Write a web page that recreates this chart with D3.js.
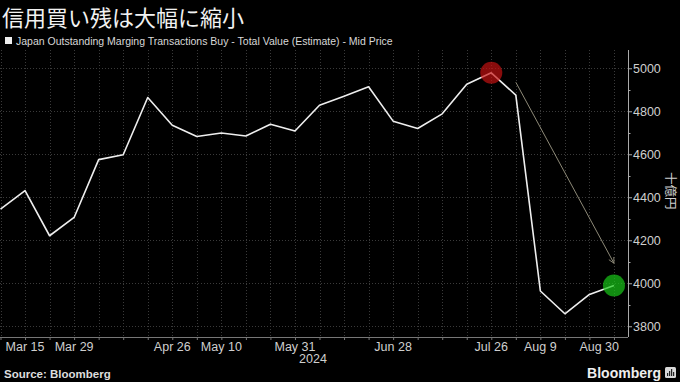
<!DOCTYPE html>
<html>
<head>
<meta charset="utf-8">
<script src="https://cdn.jsdelivr.net/npm/d3@7/dist/d3.min.js"></script>
<style>
html,body{margin:0;padding:0;background:#000;}
svg{display:block;}
</style>
</head>
<body>
<svg id="chart" width="680" height="382"></svg>
<script>
// ---- data ----
const dates = ["2024-03-08","2024-03-15","2024-03-22","2024-03-29","2024-04-05","2024-04-12","2024-04-19","2024-04-26","2024-05-03","2024-05-10","2024-05-17","2024-05-24","2024-05-31","2024-06-07","2024-06-14","2024-06-21","2024-06-28","2024-07-05","2024-07-12","2024-07-19","2024-07-26","2024-08-02","2024-08-09","2024-08-16","2024-08-23","2024-08-30"];
const values = [4345,4431,4221,4306,4575,4598,4864,4735,4683,4699,4685,4740,4708,4828,4870,4914,4754,4720,4788,4926,4979,4875,3964,3858,3948,3990];
const xTickLabels = ["2024-03-15","2024-03-29","2024-04-26","2024-05-10","2024-05-31","2024-06-28","2024-07-26","2024-08-09","2024-08-30"];
const yTicks = [3800,4000,4200,4400,4600,4800,5000];
const highlightDates = ["2024-07-26","2024-08-30"];
const highlightColors = ["rgba(200,18,18,0.68)","rgba(24,200,24,0.70)"];
const arrowFrom = {date:"2024-08-02", value:4935};
const arrowTo = {date:"2024-08-30", value:4093};
const title = "信用買い残は大幅に縮小";
const legendLabel = "Japan Outstanding Marging Transactions Buy - Total Value (Estimate) - Mid Price";
const unitLabel = "十億円";
const yearLabel = "2024";
const sourceLabel = "Source: Bloomberg";

// ---- setup ----
const parse = d3.utcParse("%Y-%m-%d");
const data = dates.map((d,i)=>({date:parse(d), value:values[i]}));
const svg = d3.select("#chart");
const W = 680, H = 382;
const plot = {left:0, right:628, top:50, bottom:337};

svg.append("rect").attr("width",W).attr("height",H).attr("fill","#000");

const x = d3.scaleUtc()
  .domain([parse("2024-03-08"), parse("2024-09-03")])
  .range([0.5, plot.right]);
const y = d3.scaleLinear()
  .domain([3750, 5085])
  .range([plot.bottom, plot.top]);

const font = "'Liberation Sans', Arial, sans-serif";
const cjk = "'Noto Sans CJK JP', 'Noto Sans CJK SC', sans-serif";

// grid
const grid = svg.append("g");
grid.selectAll("line.v").data(data).join("line")
  .attr("x1",d=>Math.round(x(d.date))+0.5).attr("x2",d=>Math.round(x(d.date))+0.5)
  .attr("y1",plot.top).attr("y2",plot.bottom)
  .attr("stroke","#3a3a3a").attr("stroke-width",1).attr("stroke-dasharray","1,2");
grid.selectAll("line.h").data(yTicks).join("line")
  .attr("x1",plot.left).attr("x2",plot.right)
  .attr("y1",d=>Math.round(y(d))+0.5).attr("y2",d=>Math.round(y(d))+0.5)
  .attr("stroke","#3a3a3a").attr("stroke-width",1).attr("stroke-dasharray","1,2");

// x axis
const xAxisG = svg.append("g").attr("transform",`translate(0,${plot.bottom})`);
xAxisG.call(d3.axisBottom(x).tickValues(data.map(d=>d.date)).tickSize(3).tickFormat(""));
xAxisG.select(".domain").attr("stroke","#777").attr("d",`M${plot.left},0.5H${plot.right}`);
xAxisG.selectAll(".tick line").attr("stroke","#777");

const fmt = d3.utcFormat("%b %-d");
const labelsG = svg.append("g");
labelsG.selectAll("text").data(xTickLabels.map(parse)).join("text")
  .attr("x",d=>x(d)).attr("y",351)
  .attr("text-anchor","middle")
  .attr("fill","#cfcfcf").attr("font-family",font).attr("font-size",12.5)
  .text(d=>fmt(d))
  .each(function(){
    const b = this.getBBox();
    if (b.x + b.width > plot.right - 9) {
      d3.select(this).attr("text-anchor","end").attr("x", plot.right - 9);
    }
  });
svg.append("text")
  .attr("x", x(parse("2024-05-31")) + 18).attr("y",363)
  .attr("text-anchor","middle")
  .attr("fill","#cfcfcf").attr("font-family",font).attr("font-size",12.5)
  .text(yearLabel);

// y axis (right)
const yAxisG = svg.append("g").attr("transform",`translate(${plot.right},0)`);
yAxisG.call(d3.axisRight(y).tickValues(yTicks).tickSize(4).tickFormat(d3.format("d")));
yAxisG.select(".domain").attr("stroke","#aaa").attr("d",`M0.5,${plot.top}V${plot.bottom}`);
yAxisG.selectAll(".tick line").attr("stroke","#aaa");
yAxisG.selectAll(".tick text").attr("fill","#cfcfcf").attr("font-family",font).attr("font-size",12.5).attr("x",5);
// minor ticks
const minor = d3.range(3800,5001,100).filter(v=>!yTicks.includes(v));
yAxisG.selectAll("line.minor").data(minor).join("line")
  .attr("x1",0).attr("x2",2.5)
  .attr("y1",d=>Math.round(y(d))+0.5).attr("y2",d=>Math.round(y(d))+0.5)
  .attr("stroke","#aaa");

// unit label
svg.append("text")
  .attr("transform",`translate(665.5,${y(4430)}) rotate(90)`)
  .attr("text-anchor","middle")
  .attr("fill","#cfcfcf").attr("font-family",cjk).attr("font-size",12.5)
  .text(unitLabel);

// line
svg.append("path").datum(data)
  .attr("fill","none").attr("stroke","#eeeeee").attr("stroke-width",1.6)
  .attr("stroke-linejoin","round")
  .attr("d", d3.line().x(d=>x(d.date)).y(d=>y(d.value)));

// highlight circles
const hl = highlightDates.map((d,i)=>{
  const p = data.find(e=>+e.date===+parse(d));
  return {date:p.date, value:p.value, color:highlightColors[i]};
});
svg.selectAll("circle.hl").data(hl).join("circle")
  .attr("cx",d=>x(d.date)).attr("cy",d=>y(d.value)).attr("r",11)
  .attr("fill",d=>d.color);

// arrow
const defs = svg.append("defs");
defs.append("marker").attr("id","arr").attr("viewBox","0 0 10 10")
  .attr("refX",9).attr("refY",5).attr("markerWidth",7).attr("markerHeight",7)
  .attr("orient","auto-start-reverse").attr("markerUnits","userSpaceOnUse")
  .append("path").attr("d","M1,1L9,5L1,9").attr("fill","none")
  .attr("stroke","#8e8a78").attr("stroke-width",1.2);
svg.append("line")
  .attr("x1",x(parse(arrowFrom.date))).attr("y1",y(arrowFrom.value))
  .attr("x2",x(parse(arrowTo.date))).attr("y2",y(arrowTo.value))
  .attr("stroke","#8e8a78").attr("stroke-width",1)
  .attr("marker-end","url(#arr)");

// title
svg.append("text").attr("x",2).attr("y",26)
  .attr("fill","#f2f2f2").attr("font-family",cjk).attr("font-size",22)
  .text(title);

// legend
svg.append("rect").attr("x",5).attr("y",37).attr("width",7).attr("height",7).attr("fill","#eeeeee");
svg.append("text").attr("x",16).attr("y",45)
  .attr("fill","#d8d8d8").attr("font-family",font).attr("font-size",10.5)
  .text(legendLabel);

// footer
svg.append("text").attr("x",4).attr("y",378)
  .attr("fill","#dddddd").attr("font-family",font).attr("font-weight","bold").attr("font-size",11.5)
  .text(sourceLabel);
svg.append("text").attr("x",661).attr("y",378)
  .attr("text-anchor","end")
  .attr("fill","#eeeeee").attr("font-family",font).attr("font-weight","bold").attr("font-size",14)
  .text("Bloomberg");
const icon = svg.append("g").attr("transform","translate(665,367)");
icon.append("rect").attr("width",11).attr("height",11).attr("rx",1.5).attr("fill","#d8d8d8");
icon.selectAll("rect.b").data([3,5,7,4]).join("rect")
  .attr("x",(d,i)=>2+i*2).attr("y",d=>9-d).attr("width",1.2).attr("height",d=>d).attr("fill","#222");
</script>
</body>
</html>
